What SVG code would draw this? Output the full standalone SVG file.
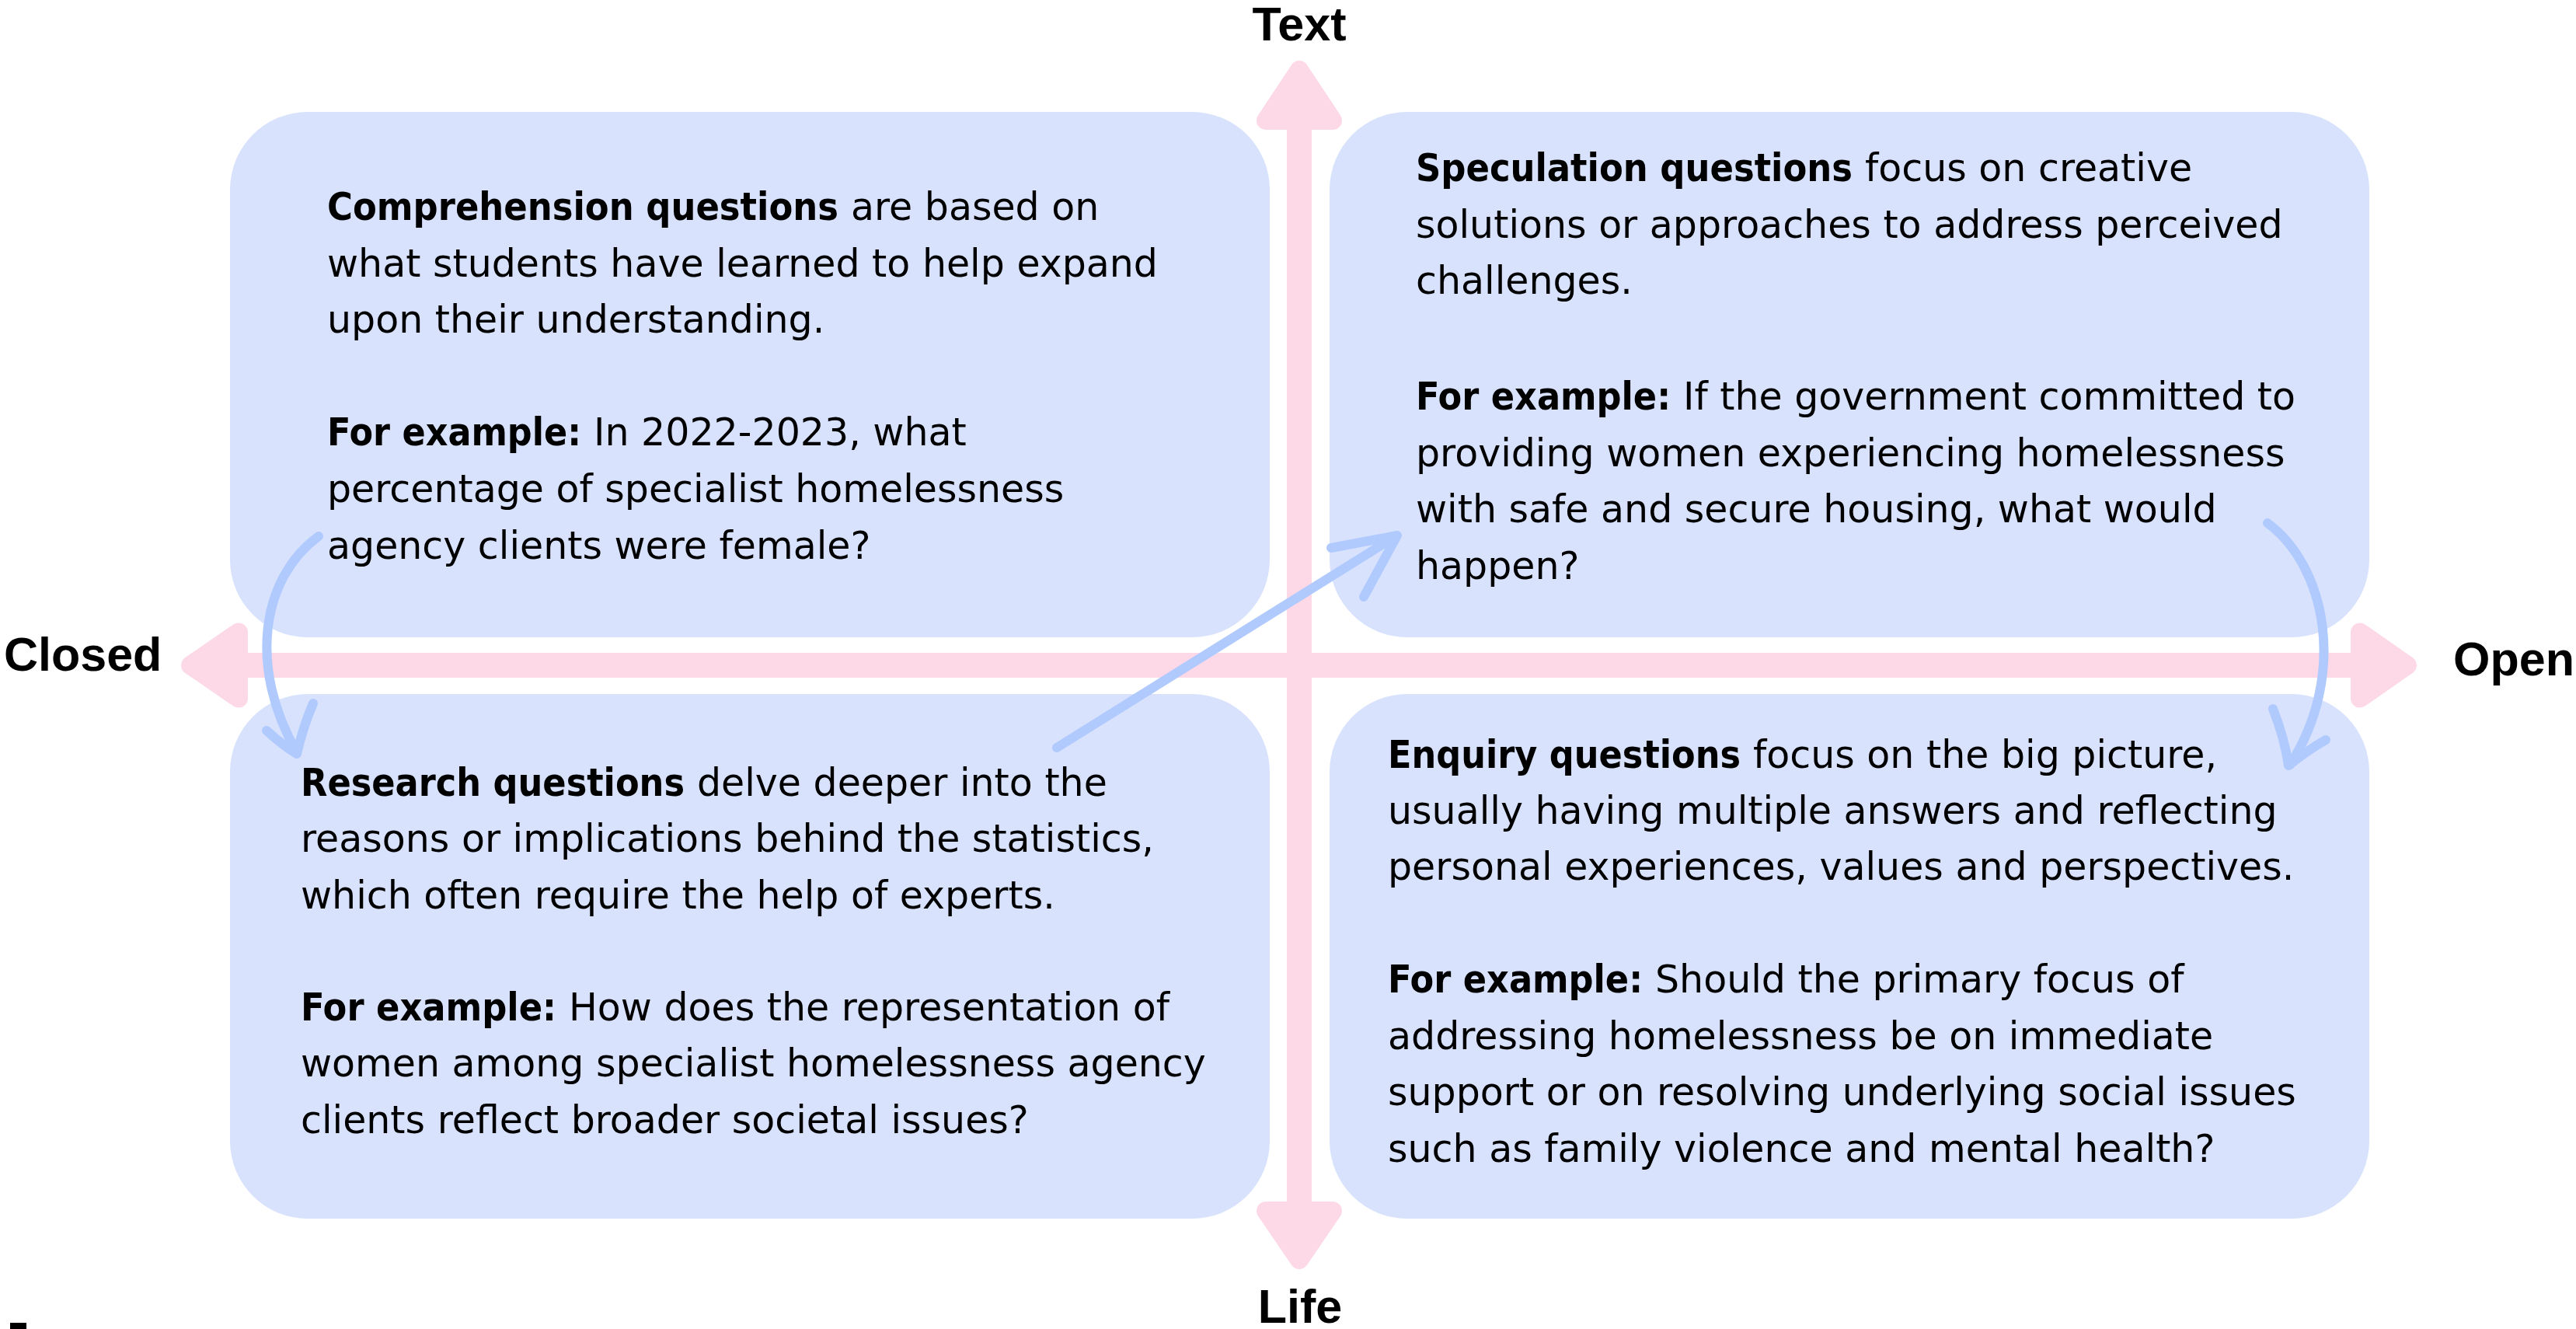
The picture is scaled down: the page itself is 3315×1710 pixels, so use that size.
<svg xmlns="http://www.w3.org/2000/svg" width="3315" height="1710" viewBox="0 0 3315 1710">
<style>
.box{fill:#D8E2FD}
.t{font-family:"DejaVu Sans",sans-serif;font-size:49px;fill:#000}
.b{font-family:"DejaVu Sans Condensed","DejaVu Sans",sans-serif;font-weight:bold;font-stretch:condensed}
.lbl{font-family:"Liberation Sans",Arial,sans-serif;font-size:61px;font-weight:bold;fill:#000}
.axis{fill:#FDD8E6;stroke:#FDD8E6;stroke-width:24;stroke-linejoin:round}
.shaft{fill:#FDD8E6}
.conn{fill:none;stroke:#B0CAFE;stroke-width:12;stroke-linecap:round;stroke-linejoin:round}
</style>
<rect width="3315" height="1710" fill="#fff"/>
<g id="node-comprehension">
<rect class="box" x="296" y="144" width="1338" height="676" rx="100" ry="100"/>
<text class="t b" x="421" y="283" textLength="658" lengthAdjust="spacingAndGlyphs">Comprehension questions</text>
<text class="t" x="1095" y="283">are based on</text>
<text class="t" x="421" y="355.5">what students have learned to help expand</text>
<text class="t" x="421" y="428">upon their understanding.</text>
<text class="t b" x="421" y="573" textLength="327" lengthAdjust="spacingAndGlyphs">For example:</text>
<text class="t" x="764" y="573">In 2022-2023, what</text>
<text class="t" x="421" y="646">percentage of specialist homelessness</text>
<text class="t" x="421" y="719">agency clients were female?</text>
</g>
<g id="node-speculation">
<rect class="box" x="1711" y="144" width="1338" height="676" rx="100" ry="100"/>
<text class="t b" x="1822" y="233" textLength="562" lengthAdjust="spacingAndGlyphs">Speculation questions</text>
<text class="t" x="2400" y="233">focus on creative</text>
<text class="t" x="1822" y="305.5">solutions or approaches to address perceived</text>
<text class="t" x="1822" y="378">challenges.</text>
<text class="t b" x="1822" y="527" textLength="328" lengthAdjust="spacingAndGlyphs">For example:</text>
<text class="t" x="2166" y="527">If the government committed to</text>
<text class="t" x="1822" y="600">providing women experiencing homelessness</text>
<text class="t" x="1822" y="672">with safe and secure housing, what would</text>
<text class="t" x="1822" y="744.5">happen?</text>
</g>
<g id="node-research">
<rect class="box" x="296" y="893" width="1338" height="675" rx="100" ry="100"/>
<text class="t b" x="387" y="1023.5" textLength="494" lengthAdjust="spacingAndGlyphs">Research questions</text>
<text class="t" x="897" y="1023.5">delve deeper into the</text>
<text class="t" x="387" y="1096">reasons or implications behind the statistics,</text>
<text class="t" x="387" y="1168.5">which often require the help of experts.</text>
<text class="t b" x="387" y="1312.5" textLength="329" lengthAdjust="spacingAndGlyphs">For example:</text>
<text class="t" x="732" y="1312.5">How does the representation of</text>
<text class="t" x="387" y="1385">women among specialist homelessness agency</text>
<text class="t" x="387" y="1458">clients reflect broader societal issues?</text>
</g>
<g id="node-enquiry">
<rect class="box" x="1711" y="893" width="1338" height="675" rx="100" ry="100"/>
<text class="t b" x="1786" y="988" textLength="454" lengthAdjust="spacingAndGlyphs">Enquiry questions</text>
<text class="t" x="2256" y="988">focus on the big picture,</text>
<text class="t" x="1786" y="1059.5">usually having multiple answers and reflecting</text>
<text class="t" x="1786" y="1131.5">personal experiences, values and perspectives.</text>
<text class="t b" x="1786" y="1277" textLength="328" lengthAdjust="spacingAndGlyphs">For example:</text>
<text class="t" x="2130" y="1277">Should the primary focus of</text>
<text class="t" x="1786" y="1349.5">addressing homelessness be on immediate</text>
<text class="t" x="1786" y="1422">support or on resolving underlying social issues</text>
<text class="t" x="1786" y="1494.5">such as family violence and mental health?</text>
</g>
<g id="axes">
<rect class="shaft" x="1656" y="150" width="32" height="1410"/>
<rect class="shaft" x="305" y="840" width="2735" height="32"/>
<polygon class="axis" points="1672,90 1629,155 1715,155"/>
<polygon class="axis" points="1672,1621 1629,1558 1715,1558"/>
<polygon class="axis" points="245,856 307,813.5 307,898.5"/>
<polygon class="axis" points="3098,856 3037,813.5 3037,898.5"/>
<text class="lbl" x="1672" y="52" text-anchor="middle">Text</text>
<text class="lbl" x="1673" y="1702" text-anchor="middle">Life</text>
<text class="lbl" x="5" y="863">Closed</text>
<text class="lbl" x="3157" y="869">Open</text>
</g>
<g id="connectors">
<path class="conn" d="M410,690 C335,745 320,860 382,968"/>
<path class="conn" d="M343,940 Q365,960 382,970 Q390,935 403,905"/>
<path class="conn" d="M1360,962 L1796,690"/>
<path class="conn" d="M1713,705 L1798,689 L1755,768"/>
<path class="conn" d="M2918,673 C2995,730 3020,870 2947,984"/>
<path class="conn" d="M2925,912 Q2940,950 2945,985 Q2970,965 2993,952"/>
</g>
<rect x="13" y="1702" width="21" height="8" fill="#000"/>
</svg>
